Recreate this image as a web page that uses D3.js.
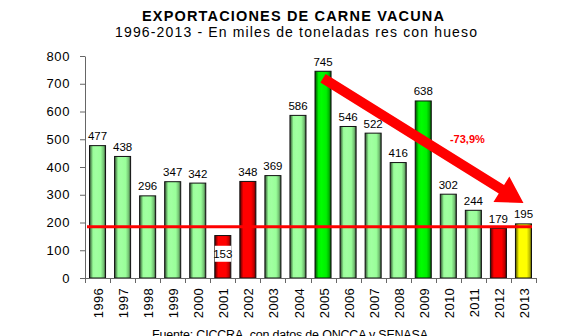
<!DOCTYPE html>
<html>
<head>
<meta charset="utf-8">
<script src="https://cdn.jsdelivr.net/npm/d3@7"></script>
<style>
  html, body { margin: 0; padding: 0; background: #fff; }
  svg { display: block; font-family: "Liberation Sans", Arial, sans-serif; }
</style>
</head>
<body>
<svg id="chart" width="571" height="336"></svg>
<script>
// Beef exports, thousands of tonnes carcass weight equivalent
const years = ["1996","1997","1998","1999","2000","2001","2002","2003","2004",
               "2005","2006","2007","2008","2009","2010","2011","2012","2013"];
const exportsKt = [477, 438, 296, 347, 342, 153, 348, 369, 586,
                   745, 546, 522, 416, 638, 302, 244, 179, 195];
// bar highlight group for each year
const barGroup = ["base","base","base","base","base","low","low","base","base",
                  "peak","base","base","base","peak","base","base","low","last"];
const yTicks = [0, 100, 200, 300, 400, 500, 600, 700, 800];
const referenceLevel = 185;
const trendFrom = { year: "2005", value: 720 };
const trendTo = { year: "2013", value: 270 };
const trendLabel = "-73,9%";

const title = "EXPORTACIONES DE CARNE VACUNA";
const subtitle = "1996-2013 - En miles de toneladas res con hueso";
const source = "Fuente: CICCRA, con datos de ONCCA y SENASA";

const groupColor = { base: "#99ff99", peak: "#00f000", low: "#ff0000", last: "#ffff00" };

const svg = d3.select("#chart");
const plotLeft = 85, plotRight = 536, plotTop = 56, plotBottom = 278;

const x = d3.scaleBand().domain(years).range([plotLeft, plotRight])
  .paddingInner(0.36).paddingOuter(0.18);
const xCells = d3.scaleBand().domain(years).range([plotLeft, plotRight]).padding(0);
const y = d3.scaleLinear().domain([0, 800]).range([plotBottom, plotTop]);

// cylinder-like shading for each bar colour
const defs = svg.append("defs");
Object.entries(groupColor).forEach(([k, c]) => {
  const base = d3.rgb(c);
  const g = defs.append("linearGradient").attr("id", "grad-" + k)
    .attr("x1", "0%").attr("x2", "100%").attr("y1", "0%").attr("y2", "0%");
  const dark = d3.rgb(base.r * 0.3, base.g * 0.3, base.b * 0.3);
  const mid = d3.rgb(base.r * 0.75, base.g * 0.75, base.b * 0.75);
  g.append("stop").attr("offset", "0%").attr("stop-color", dark);
  g.append("stop").attr("offset", "22%").attr("stop-color", base);
  g.append("stop").attr("offset", "40%").attr("stop-color", base.brighter(0.15));
  g.append("stop").attr("offset", "70%").attr("stop-color", base);
  g.append("stop").attr("offset", "88%").attr("stop-color", mid);
  g.append("stop").attr("offset", "100%").attr("stop-color", dark);
});

// titles
svg.append("text").attr("x", 293).attr("y", 21).attr("text-anchor", "middle")
  .attr("font-size", 14.5).attr("font-weight", "bold")
  .attr("textLength", 302).attr("lengthAdjust", "spacing").text(title);
svg.append("text").attr("x", 296).attr("y", 37).attr("text-anchor", "middle")
  .attr("font-size", 14)
  .attr("textLength", 362).attr("lengthAdjust", "spacing").text(subtitle);

// y axis
const yAxis = svg.append("g").attr("transform", `translate(${plotLeft},0)`)
  .call(d3.axisLeft(y).tickValues(yTicks).tickSize(5).tickPadding(10).tickSizeOuter(0));
yAxis.select(".domain").attr("stroke", "#666");
yAxis.selectAll(".tick line").attr("stroke", "#666");
yAxis.selectAll(".tick text").attr("font-size", 13).attr("fill", "#000")
  .attr("letter-spacing", 0.6)
  .attr("font-family", "Liberation Sans, Arial, sans-serif");

// bars
const data = years.map((yr, i) => ({ yr, v: exportsKt[i], g: barGroup[i] }));
svg.append("g").selectAll("rect").data(data).join("rect")
  .attr("x", d => x(d.yr))
  .attr("y", d => y(d.v))
  .attr("width", x.bandwidth())
  .attr("height", d => y(0) - y(d.v))
  .attr("fill", d => `url(#grad-${d.g})`)
  .attr("stroke", "#111").attr("stroke-width", 1);

// x axis with ticks between categories
const xAxisG = svg.append("g").attr("transform", `translate(0,${plotBottom})`);
xAxisG.append("line").attr("x1", plotLeft).attr("x2", plotRight + 1)
  .attr("y1", 0.5).attr("y2", 0.5).attr("stroke", "#666");
const bounds = years.map(d => xCells(d)).concat([xCells(years[years.length - 1]) + xCells.bandwidth()]);
xAxisG.selectAll("line.tk").data(bounds).join("line").attr("class", "tk")
  .attr("x1", d => Math.round(d) + 0.5).attr("x2", d => Math.round(d) + 0.5)
  .attr("y1", 0).attr("y2", 5).attr("stroke", "#666");
xAxisG.selectAll("text").data(years).join("text")
  .attr("transform", d => `translate(${xCells(d) + xCells.bandwidth() / 2 + 1},10) rotate(-90)`)
  .attr("text-anchor", "end").attr("dy", "0.35em")
  .attr("font-size", 13).attr("letter-spacing", 0.3).text(d => d);

// value labels
const labels = svg.append("g");
data.forEach(d => {
  const cx = x(d.yr) + x.bandwidth() / 2;
  const barH = y(0) - y(d.v);
  if (barH < 45) {
    // short bar: label sits inside on a white band
    const cy = (y(d.v) + y(0)) / 2 - 3;
    labels.append("rect").attr("x", x(d.yr)).attr("y", cy - 8)
      .attr("width", x.bandwidth() + 0.5).attr("height", 16).attr("fill", "#fff");
    labels.append("text").attr("x", cx).attr("y", cy + 4).attr("text-anchor", "middle")
      .attr("font-size", 11.5).text(d.v);
  } else {
    labels.append("text").attr("x", cx).attr("y", y(d.v) - 5.5).attr("text-anchor", "middle")
      .attr("font-size", 11.5).text(d.v);
  }
});

// reference level line
svg.append("line")
  .attr("x1", plotLeft + 2).attr("x2", plotRight - 4)
  .attr("y1", y(referenceLevel)).attr("y2", y(referenceLevel))
  .attr("stroke", "#ff0000").attr("stroke-width", 3);

// trend arrow
const ax0 = x(trendFrom.year) + x.bandwidth() / 2, ay0 = y(trendFrom.value);
const ax1 = x(trendTo.year) + x.bandwidth() / 2, ay1 = y(trendTo.value);
const len = Math.hypot(ax1 - ax0, ay1 - ay0);
const ux = (ax1 - ax0) / len, uy = (ay1 - ay0) / len;
const headLen = 26, headHalf = 15, shaft = 5;
const bx = ax1 - ux * headLen, by = ay1 - uy * headLen;
const px = -uy, py = ux;
const arrowPts = [
  [ax0 + px * shaft, ay0 + py * shaft],
  [bx + px * shaft, by + py * shaft],
  [bx + px * headHalf, by + py * headHalf],
  [ax1, ay1],
  [bx - px * headHalf, by - py * headHalf],
  [bx - px * shaft, by - py * shaft],
  [ax0 - px * shaft, ay0 - py * shaft]
];
svg.append("path").attr("d", d3.line()(arrowPts) + "Z").attr("fill", "#ff0000");

svg.append("text")
  .attr("x", x("2011") + x.bandwidth() / 2 - 6).attr("y", y(487))
  .attr("text-anchor", "middle").attr("font-size", 11).attr("font-weight", "bold")
  .attr("fill", "#ff0000").text(trendLabel);

// source note
svg.append("text").attr("x", 290).attr("y", 339).attr("text-anchor", "middle")
  .attr("font-size", 12.5)
  .attr("textLength", 276).attr("lengthAdjust", "spacing").text(source);
</script>
</body>
</html>
